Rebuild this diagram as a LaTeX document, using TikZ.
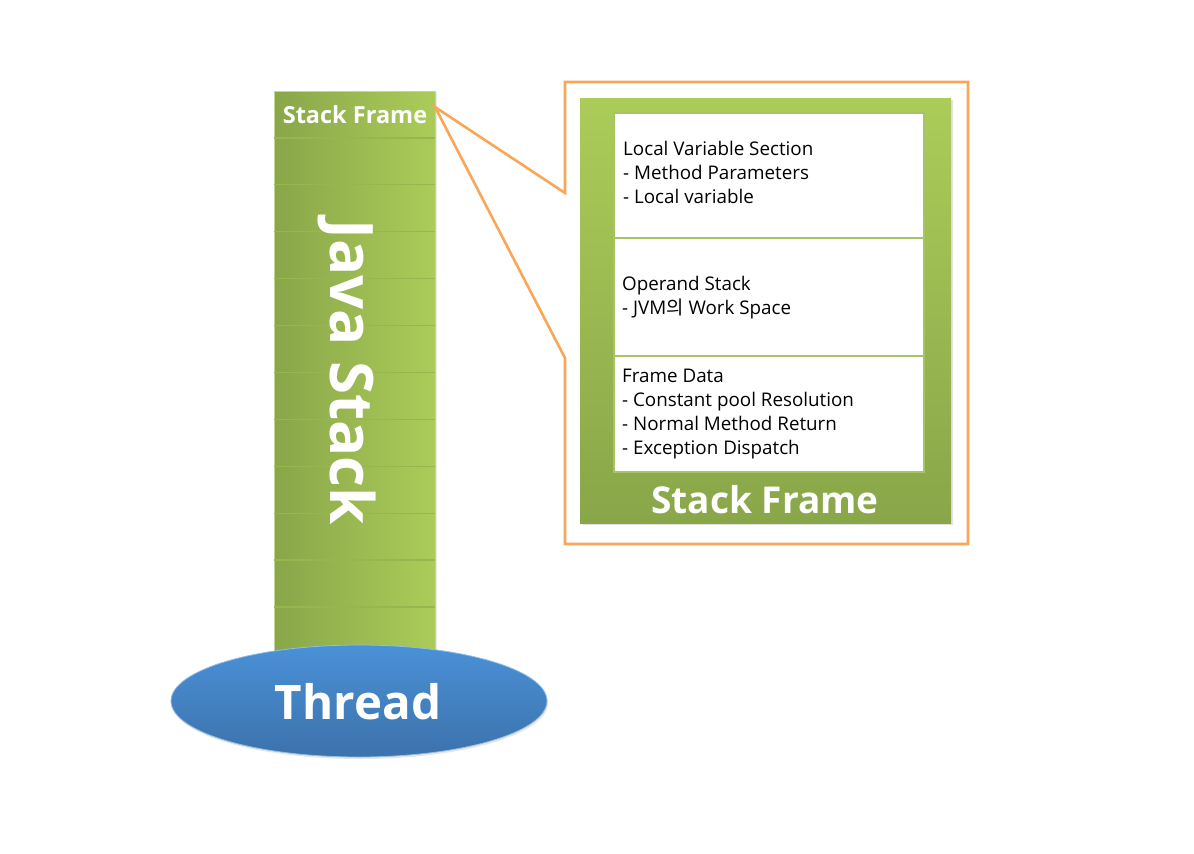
\documentclass[tikz,border=0pt]{standalone}
\usepackage{fontspec}
\setmainfont{Open Sans}
\newfontfamily\cjk{Noto Sans CJK KR}
\usetikzlibrary{shapes.geometric,shadows}
\definecolor{gdark}{RGB}{137,166,73}
\definecolor{glight}{RGB}{171,204,89}
\definecolor{gline}{RGB}{150,182,80}
\definecolor{gedge}{RGB}{196,216,150}
\definecolor{secedge}{RGB}{166,196,100}
\definecolor{orng}{RGB}{249,166,88}
\definecolor{btop}{RGB}{74,145,215}
\definecolor{bbot}{RGB}{60,114,172}
\begin{document}
\begin{tikzpicture}[x=1pt,y=-1pt,
  column/.style={rectangle, draw=gedge, line width=1pt, left color=gdark, right color=glight,
     minimum width=161pt, minimum height=563pt, inner sep=0pt,
     drop shadow={opacity=0.18, shadow xshift=1.5pt, shadow yshift=-1.5pt}},
  rowline/.style={draw=gline, line width=1.2pt},
  biglabel/.style={text=white, font=\bfseries, inner sep=0pt},
  callout/.style={draw=orng, line width=2.6pt, line join=miter},
  framebox/.style={rectangle, top color=glight, bottom color=gdark, inner sep=0pt,
     minimum width=371pt, minimum height=425pt,
     drop shadow={opacity=0.22, shadow xshift=1.5pt, shadow yshift=-1.5pt}},
  section/.style={rectangle, fill=white, draw=secedge, line width=2pt, inner sep=0pt,
     minimum width=310pt},
  sectext/.style={align=left, anchor=north west, inner sep=0pt, font=\fontsize{18.8}{24}\selectfont},
  threadshape/.style={ellipse, draw=btop!60!white, line width=0.8pt, top color=btop, bottom color=bbot,
     minimum width=376pt, minimum height=112pt, inner sep=0pt,
     drop shadow={opacity=0.2, shadow xshift=1pt, shadow yshift=-2pt}}
]
\useasboundingbox (0,0) rectangle (1194,854);

% Java stack column
\node[column] (col) at (354.5,372.5) {};
\foreach \i in {1,...,11} {
  \draw[rowline] (274,{91+46.9*\i}) -- (435,{91+46.9*\i});
}
\coordinate (sfcorner) at (435,107);
\node[biglabel, font=\bfseries\fontsize{23.5}{23.5}\selectfont] (sftop) at (355,115) {Stack Frame};
\node[biglabel, rotate=-90, font=\bfseries\fontsize{60}{60}\selectfont] (javastack) at (347,372) {Java Stack};

% Thread
\node[threadshape] (thread) at (359,701) {};
\node[biglabel, font=\bfseries\fontsize{47.5}{47.5}\selectfont] (threadtxt) at (358,702) {Thread};

% callout
\coordinate (c1) at (565,193);
\coordinate (c2) at (565,82);
\coordinate (c3) at (968,82);
\coordinate (c4) at (968,544);
\coordinate (c5) at (565,544);
\coordinate (c6) at (565,358);
\draw[callout] (sfcorner) -- (c1) -- (c2) -- (c3) -- (c4) -- (c5) -- (c6) -- cycle;

% stack frame detail
\node[framebox] (frame) at (765.5,310.5) {};
\node[section, minimum height=125pt] (lvs) at (769,175) {};
\node[section, minimum height=118pt] (ops) at (769,296.5) {};
\node[section, minimum height=116pt] (fd) at (769,413.5) {};
\node[sectext] (lvstxt) at (623,141) {Local Variable Section\\- Method Parameters\\- Local variable};
\node[sectext] (opstxt) at (622,276) {Operand Stack\\- JVM{\cjk 의} Work Space};
\node[sectext] (fdtxt) at (622,369) {Frame Data\\- Constant pool Resolution\\- Normal Method Return\\- Exception Dispatch};
\node[biglabel, font=\bfseries\fontsize{37}{37}\selectfont] (sfbot) at (765,500) {Stack Frame};
\end{tikzpicture}
\end{document}
